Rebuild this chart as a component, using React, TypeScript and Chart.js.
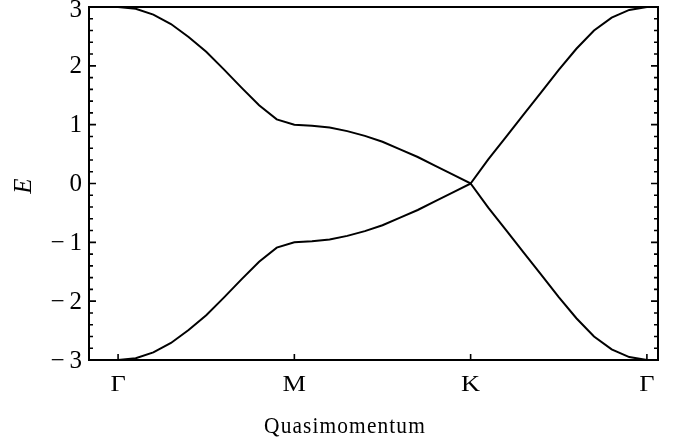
import React, { useEffect, useRef } from "react";
import { Chart, registerables } from "chart.js";

Chart.register(...registerables);

// Path through the Brillouin zone: Γ → M → K → Γ, ten steps per leg
const kPath = [
  0.0, 0.1, 0.2, 0.3, 0.4, 0.5, 0.6, 0.7, 0.8, 0.9,
  1.0, 1.1, 1.2, 1.3, 1.4, 1.5, 1.6, 1.7, 1.8, 1.9,
  2.0, 2.1, 2.2, 2.3, 2.4, 2.5, 2.6, 2.7, 2.8, 2.9, 3.0,
];

// Conduction band (upper) and valence band (lower) energies along the path
const upperBand = [
  3.0, 2.97, 2.87, 2.71, 2.49, 2.24, 1.94, 1.63, 1.33, 1.09,
  1.0, 0.98, 0.95, 0.89, 0.81, 0.71, 0.58, 0.45, 0.3, 0.15,
  0.0, 0.41, 0.79, 1.17, 1.55, 1.93, 2.29, 2.6, 2.82, 2.95, 3.0,
];
const lowerBand = [
  -3.0, -2.97, -2.87, -2.71, -2.49, -2.24, -1.94, -1.63, -1.33, -1.09,
  -1.0, -0.98, -0.95, -0.89, -0.81, -0.71, -0.58, -0.45, -0.3, -0.15,
  0.0, -0.41, -0.79, -1.17, -1.55, -1.93, -2.29, -2.6, -2.82, -2.95, -3.0,
];

const pathTicks = [0, 1, 2, 3];
const pathLabels = ["Γ", "M", "K", "Γ"];
const energyTicks = [-3, -2, -1, 0, 1, 2, 3];

const xTitle = "Quasimomentum";
const yTitle = "E";

const SERIF = '"Liberation Serif", "Times New Roman", serif';

const fmtEnergy = (v: number) => (v < 0 ? "\u2212\u2009" + Math.abs(v) : String(v));

// Text drawn with a horizontal scale factor, like the typeset labels
function scaledText(ctx: CanvasRenderingContext2D, text: string, x: number, y: number, align: CanvasTextAlign, sx: number) {
  ctx.save();
  ctx.translate(x, y);
  ctx.scale(sx, 1);
  ctx.textAlign = align;
  ctx.fillText(text, 0, 0);
  ctx.restore();
}

// Frame, inward tick marks and all text in a Mathematica-like style
const framePlugin = {
  id: "bandFrame",
  afterDraw(chart: any) {
    const { ctx, chartArea: a, scales } = chart;
    const xs = scales.x;
    const ys = scales.y;
    ctx.save();
    ctx.strokeStyle = "#000";
    ctx.lineWidth = 2;
    ctx.strokeRect(a.left, a.top, a.right - a.left, a.bottom - a.top);

    ctx.lineWidth = 1.6;
    ctx.beginPath();
    const yMin = energyTicks[0];
    const yMax = energyTicks[energyTicks.length - 1];
    const steps = Math.round((yMax - yMin) / 0.2);
    for (let k = 0; k <= steps; k++) {
      const y = ys.getPixelForValue(yMin + k * 0.2);
      const len = k % 5 === 0 ? 7 : 4;
      ctx.moveTo(a.left, y);
      ctx.lineTo(a.left + len, y);
      ctx.moveTo(a.right, y);
      ctx.lineTo(a.right - len, y);
    }
    for (const v of pathTicks) {
      const x = xs.getPixelForValue(v);
      ctx.moveTo(x, a.bottom);
      ctx.lineTo(x, a.bottom - 6);
    }
    ctx.stroke();

    ctx.fillStyle = "#000";
    ctx.font = `25px ${SERIF}`;
    ctx.textBaseline = "middle";
    for (const v of energyTicks) {
      // keep the topmost label inside the canvas
      const y = Math.max(ys.getPixelForValue(v) + 1, 10);
      scaledText(ctx, fmtEnergy(v), a.left - 7, y, "right", 1.0);
    }

    ctx.font = `24px ${SERIF}`;
    ctx.textBaseline = "alphabetic";
    pathTicks.forEach((v, i) => {
      scaledText(ctx, pathLabels[i], xs.getPixelForValue(v), a.bottom + 31, "center", 1.1);
    });

    ctx.font = `23px ${SERIF}`;
    (ctx as any).letterSpacing = "1.2px";
    scaledText(ctx, xTitle, 345, 433, "center", 0.93);
    (ctx as any).letterSpacing = "0px";

    ctx.save();
    ctx.translate(31, 186);
    ctx.rotate(-Math.PI / 2);
    ctx.font = `italic 25px ${SERIF}`;
    ctx.textAlign = "center";
    ctx.textBaseline = "alphabetic";
    ctx.fillText(yTitle, 0, 0);
    ctx.restore();

    ctx.restore();
  },
};

export default function App() {
  const canvasRef = useRef<HTMLCanvasElement | null>(null);

  useEffect(() => {
    const canvas = canvasRef.current;
    if (!canvas) return;
    const line = (values: number[]) => kPath.map((x, i) => ({ x, y: values[i] }));
    const chart = new Chart(canvas, {
      type: "line",
      data: {
        datasets: [
          {
            data: line(upperBand),
            borderColor: "#000",
            borderWidth: 2,
            pointRadius: 0,
            tension: 0,
            fill: false,
          },
          {
            data: line(lowerBand),
            borderColor: "#000",
            borderWidth: 2,
            pointRadius: 0,
            tension: 0,
            fill: false,
          },
        ],
      },
      options: {
        animation: false,
        responsive: false,
        maintainAspectRatio: false,
        layout: { padding: { left: 89, right: 25, top: 7, bottom: 82 } },
        plugins: { legend: { display: false }, tooltip: { enabled: false } },
        scales: {
          x: { type: "linear", min: -0.165, max: 3.063, display: false },
          y: { type: "linear", min: -3, max: 3, display: false },
        },
      },
      plugins: [framePlugin],
    });
    return () => chart.destroy();
  }, []);

  return (
    <div style={{ position: "fixed", left: 0, top: 0, width: 683, height: 442, background: "#fff" }}>
      <canvas ref={canvasRef} width={683} height={442} style={{ display: "block" }} />
    </div>
  );
}
